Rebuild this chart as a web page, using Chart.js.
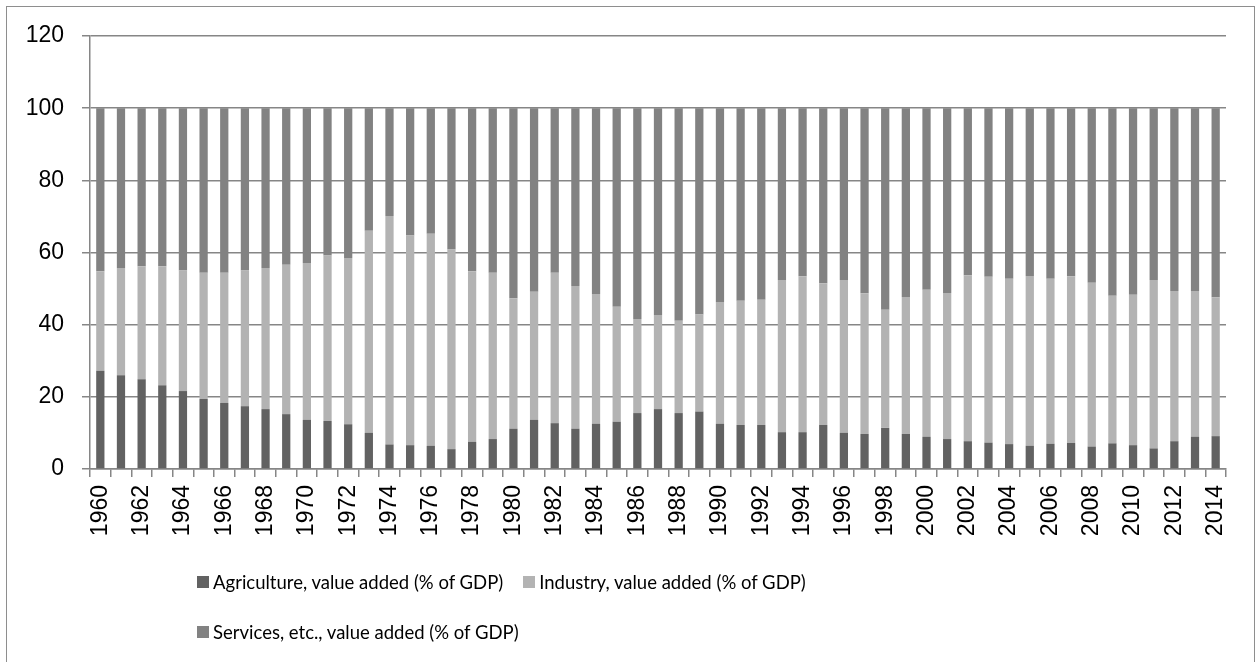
<!DOCTYPE html>
<html lang="en">
<head>
<meta charset="UTF-8" />
<title>Value added by sector (% of GDP)</title>
<style>
  body {
    margin: 0;
    background: #ffffff;
    font-family: 'Liberation Sans', Arial, sans-serif;
  }
  #wrap {
    position: relative;
    width: 1255px;
    height: 662px;
    overflow: hidden;
  }
  #frame {
    position: absolute;
    left: 6px;
    top: 6px;
    width: 1247px;
    height: 720px;
    border: 1px solid #8e8e8e;
    box-sizing: content-box;
    pointer-events: none;
  }
  canvas {
    position: absolute;
    left: 0;
    top: 0;
  }
  #legend {
    position: absolute;
    left: 197px;
    top: 568px;
    width: 900px;
    font-family: Lato, 'Open Sans', sans-serif;
    font-size: 18.5px;
    color: #000;
  }
  .row {
    display: flex;
    align-items: center;
    height: 28px;
    margin-bottom: 22px;
    white-space: nowrap;
  }
  .item {
    display: flex;
    align-items: center;
    margin-right: 20px;
  }
  .swatch {
    width: 12px;
    height: 12px;
    margin-right: 4px;
  }
</style>
</head>
<body>
<div id="wrap">
  <canvas id="sectorChart" width="1255" height="662"></canvas>
  <div id="legend"></div>
  <div id="frame"></div>
</div>

<script src="https://cdn.jsdelivr.net/npm/chart.js"></script>
<script>
  const years = [];
  for (let y = 1960; y <= 2014; y++) years.push(String(y));

  // values, % of GDP
  const agriculture = [
    27.2, 26.0, 24.9, 23.2, 21.6, 19.4, 18.3, 17.4, 16.6, 15.2,
    13.6, 13.3, 12.4, 10.0, 6.8, 6.6, 6.4, 5.5, 7.5, 8.3,
    11.2, 13.6, 12.7, 11.2, 12.5, 13.1, 15.5, 16.6, 15.5, 15.9,
    12.5, 12.2, 12.2, 10.2, 10.2, 12.2, 10.0, 9.7, 11.4, 9.7,
    8.9, 8.3, 7.7, 7.3, 6.9, 6.4, 7.0, 7.2, 6.2, 7.1,
    6.6, 5.7, 7.7, 8.9, 9.1
  ];
  const industry = [
    27.6, 29.7, 31.3, 33.0, 33.4, 35.0, 36.1, 37.6, 39.1, 41.4,
    43.5, 45.9, 46.1, 56.0, 63.3, 58.1, 58.8, 55.3, 47.3, 46.1,
    36.1, 35.5, 41.7, 39.5, 36.0, 31.9, 26.1, 26.1, 25.6, 26.9,
    33.8, 34.4, 34.7, 42.2, 43.2, 39.3, 42.4, 39.0, 32.7, 38.0,
    40.8, 40.5, 46.0, 46.0, 45.8, 47.1, 45.7, 46.2, 45.4, 40.9,
    41.7, 46.7, 41.6, 40.4, 38.5
  ];
  const services = [
    45.2, 44.3, 43.8, 43.8, 45.0, 45.6, 45.6, 45.0, 44.3, 43.4,
    42.9, 40.8, 41.5, 34.0, 29.9, 35.3, 34.8, 39.2, 45.2, 45.6,
    52.7, 50.9, 45.6, 49.3, 51.5, 55.0, 58.4, 57.3, 58.9, 57.2,
    53.7, 53.4, 53.1, 47.6, 46.6, 48.5, 47.6, 51.3, 55.9, 52.3,
    50.3, 51.2, 46.3, 46.7, 47.3, 46.5, 47.3, 46.6, 48.4, 52.0,
    51.7, 47.6, 50.7, 50.7, 52.4
  ];
  const yTicks = [0, 20, 40, 60, 80, 100, 120];

  const seriesNames = [
    'Agriculture, value added (% of GDP)',
    'Industry, value added (% of GDP)',
    'Services, etc., value added (% of GDP)'
  ];
  const seriesColors = ['#626262', '#b3b3b3', '#828282'];

  const gridColor = '#868686';
  const tickFont = { family: '"Liberation Sans", Arial, sans-serif', size: 23 };

  const ctx = document.getElementById('sectorChart').getContext('2d');

  const chart = new Chart(ctx, {
    type: 'bar',
    data: {
      labels: years,
      datasets: [agriculture, industry, services].map((vals, i) => ({
        label: seriesNames[i],
        data: vals,
        backgroundColor: seriesColors[i],
        borderWidth: 0,
        barPercentage: 0.4,
        categoryPercentage: 1.0
      }))
    },
    options: {
      responsive: false,
      animation: false,
      layout: {
        padding: { left: 0, top: 36, right: 29, bottom: 113 }
      },
      plugins: {
        legend: { display: false },
        tooltip: { enabled: false }
      },
      scales: {
        x: {
          stacked: true,
          afterFit: axis => { axis.height = 80; },
          grid: {
            display: true,
            drawOnChartArea: false,
            drawTicks: true,
            tickLength: 8,
            tickColor: gridColor,
            lineWidth: 1.5,
            offset: true
          },
          border: { display: true, color: gridColor, width: 1.5 },
          ticks: {
            autoSkip: false,
            minRotation: 90,
            maxRotation: 90,
            padding: 8,
            color: '#000',
            font: tickFont,
            callback: function (val, idx) {
              return idx % 2 === 0 ? this.getLabelForValue(val) : '';
            }
          }
        },
        y: {
          stacked: true,
          min: 0,
          max: 120,
          afterFit: axis => { axis.width = 90; },
          afterBuildTicks: axis => {
            axis.ticks = yTicks.map(v => ({ value: v }));
          },
          grid: {
            color: gridColor,
            lineWidth: 1.5,
            drawTicks: true,
            tickLength: 8,
            tickColor: gridColor
          },
          border: { display: true, color: gridColor, width: 1.5 },
          ticks: {
            padding: 18,
            color: '#000',
            font: tickFont
          }
        }
      }
    }
  });

  // legend: two rows, left aligned like the original
  const legendEl = document.getElementById('legend');
  const rows = [[0, 1], [2]];
  rows.forEach(r => {
    const row = document.createElement('div');
    row.className = 'row';
    r.forEach(i => {
      const ds = chart.data.datasets[i];
      const item = document.createElement('span');
      item.className = 'item';
      const sw = document.createElement('span');
      sw.className = 'swatch';
      sw.style.background = ds.backgroundColor;
      const txt = document.createElement('span');
      txt.textContent = ds.label;
      item.appendChild(sw);
      item.appendChild(txt);
      row.appendChild(item);
    });
    legendEl.appendChild(row);
  });
</script>
</body>
</html>
